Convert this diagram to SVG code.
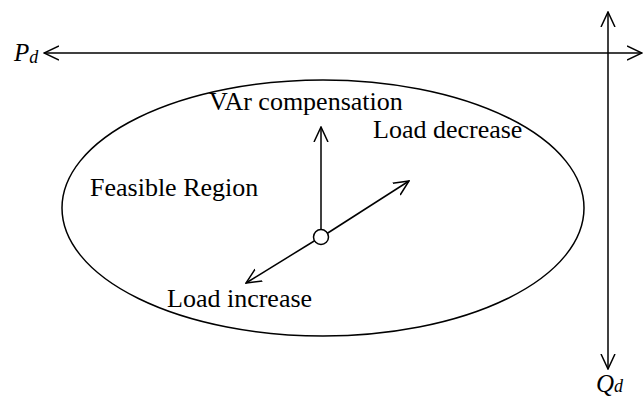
<svg xmlns="http://www.w3.org/2000/svg" width="643" height="397" viewBox="0 0 643 397">
  <style>
    .ln { stroke: #000; stroke-width: 1.5; fill: none; }
    .lbl { font-family: "Liberation Serif", "Times New Roman", serif; font-size: 26px; fill: #000; }
    .var { font-family: "Liberation Serif", "Times New Roman", serif; font-style: italic; fill: #000; }
  </style>
  <defs>
    <!-- open V arrowhead -->
    <marker id="open" viewBox="0 0 16 16" refX="15" refY="8" markerWidth="16" markerHeight="16" markerUnits="userSpaceOnUse" orient="auto">
      <path d="M0,1 L15,8 L0,15" fill="none" stroke="#000" stroke-width="1.5"/>
    </marker>
  </defs>

  <g id="region">
    <ellipse cx="323" cy="208" rx="261" ry="128" class="ln"/>
    <text class="lbl" x="90" y="196">Feasible Region</text>
  </g>

  <g id="connectors">
    <line x1="608" y1="53" x2="44" y2="53" class="ln" marker-end="url(#open)"/>
    <line x1="608" y1="53" x2="642" y2="53" class="ln" marker-end="url(#open)"/>
    <line x1="608" y1="53" x2="608" y2="12" class="ln" marker-end="url(#open)"/>
    <line x1="608" y1="53" x2="608" y2="369" class="ln" marker-end="url(#open)"/>
    <line x1="321" y1="230" x2="321" y2="127" class="ln" marker-end="url(#open)"/>
    <line x1="327" y1="233.5" x2="409" y2="181" class="ln" marker-end="url(#open)"/>
    <line x1="315" y1="240.5" x2="246" y2="283" class="ln" marker-end="url(#open)"/>
  </g>

  <g id="origin">
    <circle cx="321" cy="237" r="7.5" fill="#fff" stroke="#000" stroke-width="1.5"/>
  </g>

  <g id="labels">
    <text class="lbl" x="209" y="110">VAr compensation</text>
    <text class="lbl" x="373" y="138">Load decrease</text>
    <text class="lbl" x="167" y="307">Load increase</text>
  </g>

  <g id="axis-p">
    <text class="var" x="14" y="61" font-size="25">P<tspan font-size="18" dy="2">d</tspan></text>
  </g>
  <g id="axis-q">
    <text class="var" x="596" y="392" font-size="25">Q<tspan font-size="18" dy="0">d</tspan></text>
  </g>
</svg>
